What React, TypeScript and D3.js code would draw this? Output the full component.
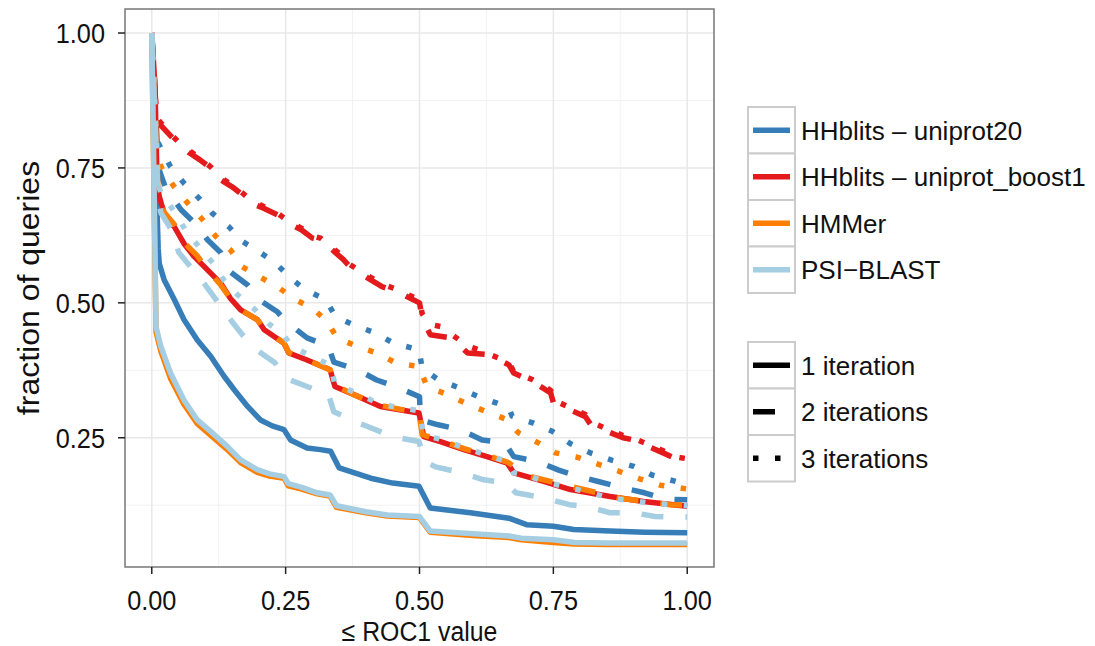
import React from "react";
import * as d3 from "d3";

type Pt = [number, number];

// ---- data (x = ROC1 threshold, y = fraction of queries) ----
const u20_1: Pt[] = [[0,1],[0.012,0.6],[0.014,0.573],[0.023,0.543],[0.042,0.506],[0.06,0.469],[0.085,0.431],[0.11,0.401],[0.135,0.364],[0.154,0.339],[0.179,0.308],[0.203,0.283],[0.225,0.272],[0.247,0.265],[0.259,0.246],[0.29,0.231],[0.315,0.228],[0.334,0.225],[0.35,0.194],[0.409,0.175],[0.45,0.166],[0.499,0.16],[0.52,0.12],[0.595,0.111],[0.667,0.101],[0.7,0.089],[0.75,0.086],[0.788,0.08],[0.856,0.077],[0.92,0.075],[1,0.074]];
const u20_2: Pt[] = [[0,1],[0.012,0.76],[0.015,0.743],[0.025,0.715],[0.055,0.672],[0.08,0.648],[0.104,0.617],[0.129,0.593],[0.147,0.557],[0.179,0.533],[0.2,0.506],[0.235,0.483],[0.25,0.465],[0.263,0.456],[0.29,0.435],[0.33,0.42],[0.34,0.39],[0.384,0.376],[0.42,0.357],[0.46,0.343],[0.5,0.326],[0.502,0.283],[0.535,0.274],[0.576,0.265],[0.617,0.246],[0.66,0.24],[0.676,0.215],[0.72,0.206],[0.76,0.19],[0.797,0.178],[0.834,0.169],[0.88,0.157],[0.92,0.148],[0.96,0.136],[1,0.135]];
const u20_3: Pt[] = [[0,1],[0.01,0.8],[0.017,0.787],[0.035,0.752],[0.06,0.722],[0.088,0.694],[0.113,0.666],[0.144,0.641],[0.169,0.614],[0.2,0.595],[0.231,0.574],[0.259,0.546],[0.287,0.524],[0.325,0.506],[0.343,0.475],[0.377,0.459],[0.418,0.444],[0.452,0.425],[0.499,0.413],[0.505,0.379],[0.533,0.359],[0.57,0.344],[0.608,0.327],[0.645,0.314],[0.667,0.305],[0.673,0.29],[0.713,0.277],[0.748,0.262],[0.782,0.239],[0.819,0.222],[0.86,0.208],[0.9,0.197],[0.934,0.181],[0.975,0.17],[1,0.163]];

const b1_1: Pt[] = [[0,1],[0.006,0.9],[0.01,0.72],[0.014,0.697],[0.023,0.666],[0.042,0.641],[0.06,0.61],[0.079,0.586],[0.104,0.561],[0.129,0.536],[0.147,0.508],[0.166,0.487],[0.197,0.469],[0.21,0.45],[0.247,0.425],[0.256,0.407],[0.29,0.394],[0.333,0.376],[0.342,0.345],[0.377,0.33],[0.427,0.308],[0.499,0.296],[0.508,0.252],[0.539,0.243],[0.583,0.228],[0.626,0.215],[0.664,0.203],[0.676,0.185],[0.732,0.169],[0.782,0.154],[0.856,0.141],[0.918,0.132],[1,0.123]];
const b1_2: Pt[] = [[0,1],[0.008,0.86],[0.013,0.833],[0.03,0.815],[0.048,0.796],[0.07,0.778],[0.09,0.765],[0.11,0.75],[0.129,0.728],[0.15,0.715],[0.17,0.7],[0.185,0.685],[0.21,0.675],[0.235,0.663],[0.254,0.648],[0.28,0.635],[0.3,0.62],[0.315,0.617],[0.335,0.6],[0.358,0.58],[0.37,0.567],[0.4,0.548],[0.43,0.53],[0.46,0.52],[0.5,0.5],[0.505,0.472],[0.52,0.441],[0.56,0.435],[0.59,0.407],[0.63,0.404],[0.667,0.385],[0.676,0.37],[0.71,0.355],[0.745,0.333],[0.75,0.315],[0.81,0.289],[0.82,0.274],[0.88,0.25],[0.9,0.246],[0.955,0.222],[0.975,0.213],[1,0.209]];
const b1_3: Pt[] = [[0,1],[0.008,0.865],[0.013,0.838],[0.03,0.818],[0.048,0.8],[0.07,0.782],[0.09,0.768],[0.11,0.752],[0.129,0.732],[0.15,0.718],[0.17,0.703],[0.185,0.69],[0.21,0.678],[0.235,0.666],[0.254,0.652],[0.28,0.638],[0.3,0.624],[0.315,0.62],[0.335,0.604],[0.358,0.585],[0.37,0.571],[0.4,0.552],[0.43,0.535],[0.46,0.524],[0.5,0.505],[0.505,0.48],[0.52,0.46],[0.54,0.456],[0.59,0.42],[0.61,0.413],[0.667,0.39],[0.676,0.372],[0.71,0.358],[0.745,0.338],[0.75,0.32],[0.81,0.293],[0.82,0.279],[0.88,0.254],[0.9,0.249],[0.955,0.226],[0.975,0.215],[1,0.211]];

const hm_1: Pt[] = [[0,1],[0.008,0.446],[0.017,0.41],[0.035,0.36],[0.06,0.312],[0.085,0.276],[0.113,0.252],[0.141,0.228],[0.166,0.204],[0.197,0.186],[0.22,0.179],[0.247,0.175],[0.255,0.161],[0.28,0.155],[0.309,0.146],[0.333,0.142],[0.345,0.121],[0.4,0.111],[0.44,0.105],[0.5,0.102],[0.52,0.075],[0.6,0.069],[0.667,0.065],[0.69,0.061],[0.75,0.056],[0.79,0.053],[0.85,0.052],[1,0.052]];
const hm_2: Pt[] = [[0,1],[0.012,0.7],[0.023,0.668],[0.042,0.645],[0.06,0.612],[0.085,0.587],[0.104,0.561],[0.129,0.533],[0.147,0.508],[0.166,0.487],[0.197,0.469],[0.21,0.452],[0.247,0.425],[0.256,0.408],[0.29,0.394],[0.333,0.376],[0.342,0.347],[0.377,0.33],[0.427,0.31],[0.499,0.296],[0.505,0.256],[0.539,0.245],[0.583,0.23],[0.626,0.217],[0.664,0.205],[0.707,0.178],[0.794,0.157],[0.875,0.138],[0.968,0.126],[1,0.125]];
const hm_3: Pt[] = [[0,1],[0.01,0.77],[0.02,0.746],[0.042,0.715],[0.067,0.685],[0.095,0.654],[0.119,0.624],[0.147,0.598],[0.169,0.567],[0.202,0.548],[0.236,0.529],[0.266,0.507],[0.3,0.49],[0.328,0.465],[0.346,0.435],[0.384,0.419],[0.421,0.407],[0.457,0.388],[0.499,0.382],[0.514,0.345],[0.552,0.33],[0.586,0.314],[0.623,0.299],[0.66,0.285],[0.685,0.259],[0.723,0.24],[0.754,0.222],[0.794,0.214],[0.833,0.201],[0.872,0.188],[0.911,0.174],[0.95,0.162],[1,0.155]];

const ps_1: Pt[] = [[0,1],[0.008,0.456],[0.017,0.419],[0.035,0.37],[0.06,0.32],[0.085,0.283],[0.113,0.259],[0.141,0.234],[0.166,0.209],[0.197,0.191],[0.22,0.183],[0.247,0.178],[0.255,0.165],[0.28,0.158],[0.309,0.148],[0.333,0.144],[0.345,0.124],[0.4,0.113],[0.44,0.107],[0.5,0.104],[0.52,0.077],[0.6,0.072],[0.667,0.068],[0.69,0.064],[0.75,0.061],[0.79,0.056],[0.85,0.055],[1,0.055]];
const ps_2: Pt[] = [[0,1],[0.012,0.69],[0.017,0.667],[0.04,0.63],[0.05,0.594],[0.077,0.561],[0.1,0.533],[0.12,0.506],[0.15,0.465],[0.17,0.44],[0.2,0.41],[0.23,0.389],[0.25,0.36],[0.29,0.345],[0.33,0.33],[0.34,0.298],[0.38,0.28],[0.41,0.268],[0.45,0.252],[0.499,0.243],[0.51,0.206],[0.53,0.196],[0.58,0.185],[0.62,0.172],[0.66,0.167],[0.68,0.148],[0.73,0.139],[0.78,0.126],[0.815,0.122],[0.856,0.111],[0.9,0.111],[0.94,0.104],[1,0.103]];
const ps_3: Pt[] = [[0,1],[0.012,0.72],[0.017,0.704],[0.04,0.672],[0.063,0.635],[0.088,0.604],[0.114,0.574],[0.134,0.543],[0.16,0.515],[0.19,0.49],[0.22,0.46],[0.247,0.44],[0.26,0.42],[0.3,0.4],[0.333,0.385],[0.342,0.35],[0.377,0.335],[0.427,0.312],[0.499,0.3],[0.508,0.255],[0.539,0.247],[0.583,0.232],[0.626,0.218],[0.664,0.206],[0.676,0.185],[0.7,0.181],[0.732,0.169],[0.782,0.157],[0.82,0.148],[0.856,0.138],[0.9,0.133],[0.93,0.129],[1,0.124]];

const methods = ["HHblits \u2013 uniprot20", "HHblits \u2013 uniprot_boost1", "HMMer", "PSI\u2212BLAST"];
const methodColors = ["#377eb8", "#e41a1c", "#ff7f00", "#a6cee3"];
const iterations = ["1 iteration", "2 iterations", "3 iterations"];
const seriesData: Pt[][][] = [
  [u20_1, u20_2, u20_3],
  [b1_1, b1_2, b1_3],
  [hm_1, hm_2, hm_3],
  [ps_1, ps_2, ps_3],
];
const xTicks = [0, 0.25, 0.5, 0.75, 1];
const yTicks = [0.25, 0.5, 0.75, 1];

const LW = 5.5;
const dashes = ["none", `${LW * 4},${LW * 4}`, `${LW},${LW * 3}`];

export default function App() {
  const W = 1095, H = 646;
  const left = 125, right = 714, top = 9, bottom = 567;
  const x = d3.scaleLinear().domain([-0.05, 1.05]).range([left, right]);
  const y = d3.scaleLinear().domain([0.0105, 1.0445]).range([bottom, top]);
  const line = d3.line<Pt>().x((d) => x(d[0])).y((d) => y(d[1]));
  const font = "'Liberation Sans', Arial, Helvetica, sans-serif";

  const xMinor = [0.125, 0.375, 0.625, 0.875];
  const yMinor = [0.125, 0.375, 0.625, 0.875];

  const keyX = 748, keyW = 47, keyH = 46.5;
  const leg1Top = 107, leg2Top = 342;
  const tickFont = 27.5;
  const sx = 0.92;

  return (
    <svg width={W} height={H} style={{ position: "absolute", left: 0, top: 0, background: "#fff" }} fontFamily={font}>
      <rect x={0} y={0} width={W} height={H} fill="#fff" />
      {/* grid */}
      <g>
        {xMinor.map((v) => (
          <line key={"xm" + v} x1={x(v)} x2={x(v)} y1={top} y2={bottom} stroke="#f2f2f2" strokeWidth={1} />
        ))}
        {yMinor.map((v) => (
          <line key={"ym" + v} y1={y(v)} y2={y(v)} x1={left} x2={right} stroke="#f2f2f2" strokeWidth={1} />
        ))}
        {xTicks.map((v) => (
          <line key={"xg" + v} x1={x(v)} x2={x(v)} y1={top} y2={bottom} stroke="#e8e8e8" strokeWidth={1.5} />
        ))}
        {yTicks.map((v) => (
          <line key={"yg" + v} y1={y(v)} y2={y(v)} x1={left} x2={right} stroke="#e8e8e8" strokeWidth={1.5} />
        ))}
      </g>
      {/* series */}
      <g fill="none" strokeLinejoin="round" strokeLinecap="butt">
        {seriesData.map((m, mi) =>
          m.map((s, ii) => (
            <path
              key={mi + "-" + ii}
              d={line(s) || ""}
              stroke={methodColors[mi]}
              strokeWidth={LW}
              strokeDasharray={dashes[ii]}
            />
          ))
        )}
      </g>
      {/* panel border */}
      <rect x={left} y={top} width={right - left} height={bottom - top} fill="none" stroke="#7f7f7f" strokeWidth={1.6} />
      {/* axes */}
      {xTicks.map((v) => (
        <g key={"xt" + v}>
          <line x1={x(v)} x2={x(v)} y1={bottom} y2={bottom + 7} stroke="#222" strokeWidth={1.5} />
          <text transform={`translate(${x(v)}, ${bottom + 43}) scale(${sx},1)`} textAnchor="middle" fontSize={tickFont} fill="#111">
            {v.toFixed(2)}
          </text>
        </g>
      ))}
      {yTicks.map((v) => (
        <g key={"yt" + v}>
          <line x1={left - 7} x2={left} y1={y(v)} y2={y(v)} stroke="#222" strokeWidth={1.5} />
          <text transform={`translate(${left - 20}, ${y(v)}) scale(${sx},1)`} dy="0.36em" textAnchor="end" fontSize={tickFont} fill="#111">
            {v.toFixed(2)}
          </text>
        </g>
      ))}
      <text transform={`translate(${(left + right) / 2}, 641) scale(${sx},1)`} textAnchor="middle" fontSize={27} fill="#111">
        {"\u2264 ROC1 value"}
      </text>
      <text transform={`translate(39, ${(top + bottom) / 2}) rotate(-90) scale(1.0,${sx})`} textAnchor="middle" fontSize={32} fill="#111">
        fraction of queries
      </text>
      {/* legend 1 */}
      {methods.map((m, i) => {
        const ky = leg1Top + i * keyH;
        return (
          <g key={"l1" + i}>
            <rect x={keyX} y={ky} width={keyW} height={keyH} fill="#fff" stroke="#cccccc" strokeWidth={2} />
            <line x1={keyX + 5} x2={keyX + keyW - 5} y1={ky + keyH / 2} y2={ky + keyH / 2} stroke={methodColors[i]} strokeWidth={LW} />
            <text x={801} y={ky + keyH / 2} dy="0.36em" fontSize={26} fill="#111">
              {m}
            </text>
          </g>
        );
      })}
      {/* legend 2 */}
      {iterations.map((t, i) => {
        const ky = leg2Top + i * keyH;
        return (
          <g key={"l2" + i}>
            <rect x={keyX} y={ky} width={keyW} height={keyH} fill="#fff" stroke="#cccccc" strokeWidth={2} />
            <line x1={keyX + 5} x2={keyX + keyW - 5} y1={ky + keyH / 2} y2={ky + keyH / 2} stroke="#000" strokeWidth={LW} strokeDasharray={dashes[i]} />
            <text x={801} y={ky + keyH / 2} dy="0.36em" fontSize={26} fill="#111">
              {t}
            </text>
          </g>
        );
      })}
    </svg>
  );
}
